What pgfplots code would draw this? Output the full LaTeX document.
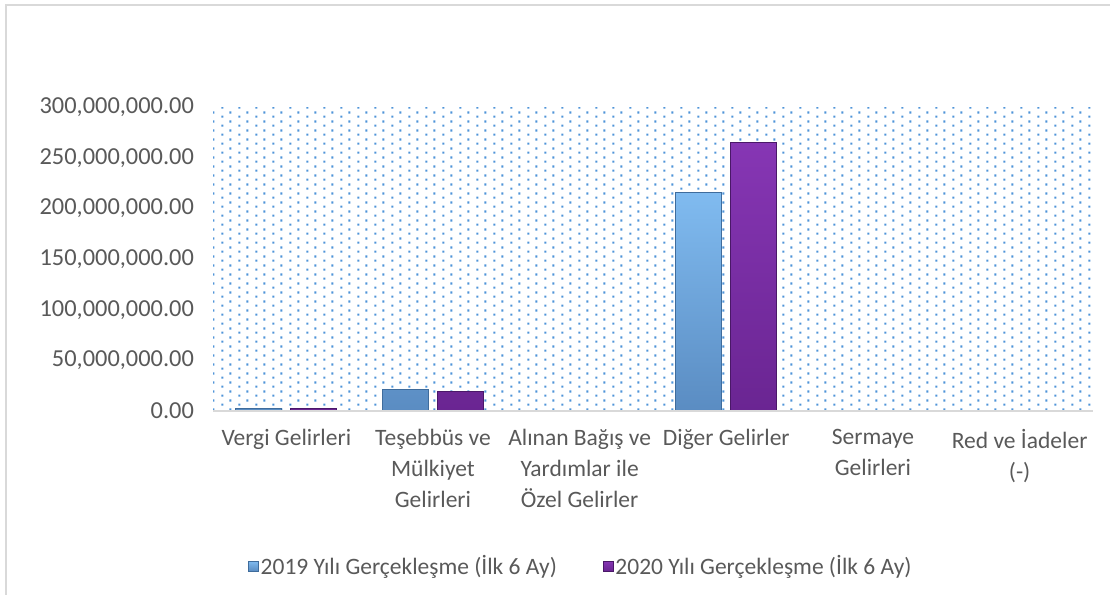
\documentclass[border=0pt]{standalone}
\usepackage{pgfplots}
\pgfplotsset{compat=1.18}
\usepackage{fontspec}
\setmainfont{Carlito}
\usetikzlibrary{patterns}
\definecolor{txt}{HTML}{595959}
\definecolor{dotblue}{HTML}{4F94D8}
\definecolor{frame}{HTML}{D9D9D9}
\definecolor{bluetop}{HTML}{80BBF0}
\definecolor{bluebot}{HTML}{5A8CC2}
\definecolor{blueedge}{HTML}{3F6C9C}
\definecolor{purtop}{HTML}{8636B4}
\definecolor{purbot}{HTML}{6A2592}
\definecolor{puredge}{HTML}{4A1868}
\pgfdeclarepatternformonly{mydots}{\pgfqpoint{0pt}{0pt}}{\pgfqpoint{8.5pt}{4.3pt}}{\pgfqpoint{8.5pt}{4.3pt}}{%
  \pgfpathrectangle{\pgfqpoint{0.2pt}{0.2pt}}{\pgfqpoint{1.1pt}{1.1pt}}%
  \pgfpathrectangle{\pgfqpoint{4.45pt}{2.35pt}}{\pgfqpoint{1.1pt}{1.1pt}}%
  \pgfusepath{fill}}
\begin{document}
\begin{tikzpicture}
\path[use as bounding box] (0,0) rectangle (555pt,297.5pt);
\draw[frame, line width=1pt] (3pt,0) -- (3pt,295pt) -- (555pt,295pt);
\begin{axis}[
  at={(106.5pt,92pt)}, anchor=south west,
  scale only axis, width=440pt, height=152pt,
  ybar=4.5pt, bar width=23pt,
  xmin=-0.5, xmax=5.5, ymin=0, ymax=300000000,
  xtick=data,
  xticklabels={Vergi Gelirleri, {Teşebbüs ve\\Mülkiyet\\Gelirleri}, {Alınan Bağış ve\\Yardımlar ile\\Özel Gelirler}, Diğer Gelirler, {Sermaye\\Gelirleri}, {Red ve İadeler\\(-)}},
  xticklabel style={align=center, font=\fontsize{11.75}{15.5}\selectfont, text=txt, yshift=-5.5pt},
  ytick={0,50000000,100000000,150000000,200000000,250000000,300000000},
  scaled y ticks=false,
  yticklabel style={font=\fontsize{12.2}{14.5}\selectfont, text=txt, /pgf/number format/fixed, /pgf/number format/fixed zerofill, /pgf/number format/precision=2, /pgf/number format/1000 sep={,}, /pgf/number format/assume math mode=true, xshift=-6pt},
  axis line style={draw=none},
  major tick length=0pt,
  axis background/.style={pattern=mydots, pattern color=dotblue},
  legend style={at={(0.418,-0.51)}, anchor=center, draw=none, fill=none, legend columns=2, font=\fontsize{11.75}{14.5}\selectfont, text=txt, /tikz/every even column/.append style={column sep=22pt}, inner sep=0pt, nodes={inner xsep=1pt}},
  legend image code/.code={\draw[#1, line width=0.3pt] (0pt,-2.5pt) rectangle (5pt,2.5pt);},
  clip=false,
]
\addplot[draw=blueedge, line width=0.6pt, top color=bluetop, bottom color=bluebot] coordinates {(0,2500000) (1,21000000) (2,0) (3,215400000) (4,0) (5,0)};
\addplot[draw=puredge, line width=0.6pt, top color=purtop, bottom color=purbot] coordinates {(0,2500000) (1,19300000) (2,0) (3,264800000) (4,0) (5,0)};
\legend{2019 Yılı Gerçekleşme (İlk 6 Ay), 2020 Yılı Gerçekleşme (İlk 6 Ay)}
\draw[frame, line width=1pt] (axis cs:-0.5,0) -- (axis cs:5.5,0);
\end{axis}
\end{tikzpicture}
\end{document}
